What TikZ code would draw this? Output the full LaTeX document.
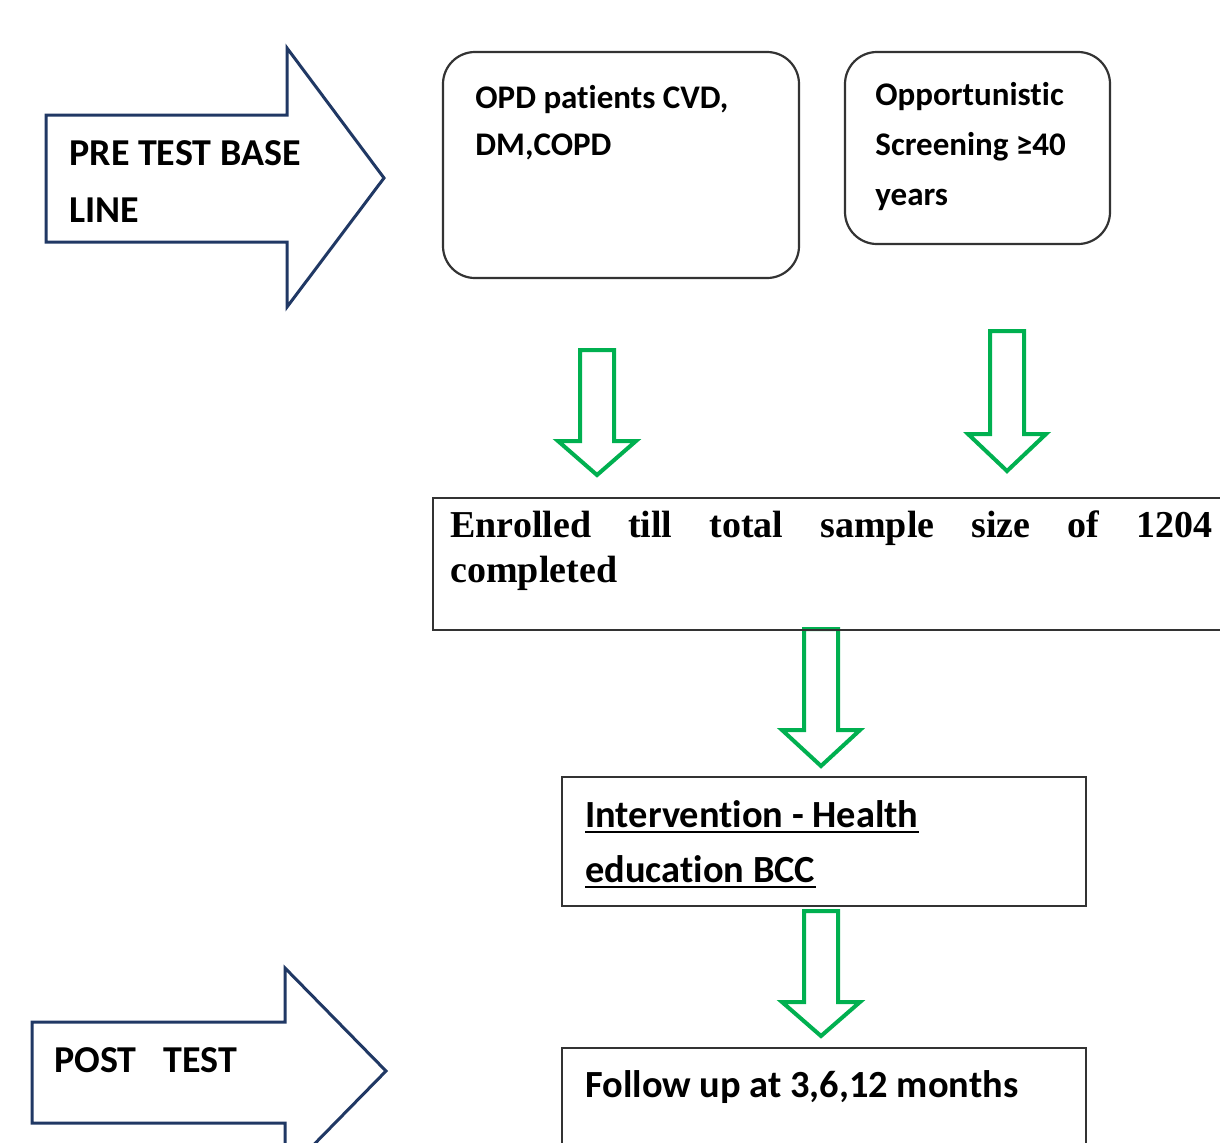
\documentclass[tikz,border=0pt]{standalone}
\usepackage{fontspec}
\setmainfont{Carlito}[Ligatures=NoCommon]
\newfontfamily\serifbold{Liberation Serif}
\definecolor{navy}{HTML}{203864}
\definecolor{offgreen}{HTML}{00B050}
\definecolor{boxline}{HTML}{333333}
\newcommand\downblock[4]{%
  \draw[garrow] (#1-17,#2) -- (#1+17,#2) -- (#1+17,#3) -- (#1+39,#3) -- (#1,#4) -- (#1-39,#3) -- (#1-17,#3) -- cycle;}
\begin{document}
\begin{tikzpicture}[x=0.5pt,y=-0.5pt,
  barrow/.style={draw=navy,line width=1.5pt,line join=miter,fill=white},
  garrow/.style={draw=offgreen,line width=2pt,line join=miter,fill=white},
  rbox/.style={draw=boxline,line width=1.1pt,rounded corners=16pt},
  sbox/.style={draw=boxline,line width=1pt},
  txt/.style={anchor=base west,inner sep=0pt,font=\bfseries\fontsize{16.5pt}{19pt}\selectfont},
  bigtxt/.style={anchor=base west,inner sep=0pt,font=\bfseries\fontsize{19pt}{22pt}\selectfont},
  midtxt/.style={anchor=base west,inner sep=0pt,font=\bfseries\fontsize{19.2pt}{22pt}\selectfont},
  sertxt/.style={anchor=base west,inner sep=0pt,font=\serifbold\bfseries\fontsize{19pt}{22pt}\selectfont},
  uline/.style={draw=black,line width=1pt}]
\useasboundingbox (0,0) rectangle (1220,1142);
\clip (0,0) rectangle (1220,1142);
\fill[white] (0,0) rectangle (1220,1142);

% blue block arrows
\draw[barrow] (46,115) -- (287,115) -- (287,48) -- (384,178) -- (287,307) -- (287,242) -- (46,242) -- cycle;
\draw[barrow] (32,1022) -- (285,1022) -- (285,968) -- (386,1071) -- (285,1174) -- (285,1123) -- (32,1123) -- cycle;
\node[bigtxt] (pre1) at (69,165) {PRE TEST BASE};
\node[bigtxt] (pre2) at (69,222) {LINE};
\node[bigtxt] (post1) at (54,1072) {POST};
\node[bigtxt] (post2) at (163,1072) {TEST};

% top boxes
\draw[rbox] (443,52) rectangle (799,278);
\node[txt] (opd1) at (475,108) {OPD patients CVD,};
\node[txt] (opd2) at (475,155) {DM,COPD};
\draw[rbox] (845,52) rectangle (1110,244);
\node[txt] (opp1) at (875,105) {Opportunistic};
\node[txt] (opp2) at (875,155) {Screening ≥40};
\node[txt] (opp3) at (875,205) {years};

% green arrows
\downblock{597}{350}{441}{475}
\downblock{1007}{331}{434}{471}
\downblock{821}{629}{730}{766}
\downblock{821}{911}{1002}{1036}

% enrolled box
\draw[sbox] (433,498) rectangle (1240,630);
\node[sertxt] (enr1) at (450,537) {\hbox to 381pt{Enrolled\hfill till\hfill total\hfill sample\hfill size\hfill of\hfill 1204}};
\node[sertxt] (enr2) at (450,582) {completed};

% intervention box
\draw[sbox] (562,777) rectangle (1086,906);
\node[midtxt] (int1) at (585,827) {Intervention - Health};
\node[midtxt] (int2) at (585,882) {education BCC};
\draw[uline] ([yshift=-2.6pt]int1.base west) -- ([yshift=-2.6pt]int1.base east);
\draw[uline] ([yshift=-2.6pt]int2.base west) -- ([yshift=-2.6pt]int2.base east);

% follow up box
\draw[sbox] (562,1048) rectangle (1086,1170);
\node[midtxt] (fol) at (585,1097) {Follow up at 3,6,12 months};
\end{tikzpicture}
\end{document}
